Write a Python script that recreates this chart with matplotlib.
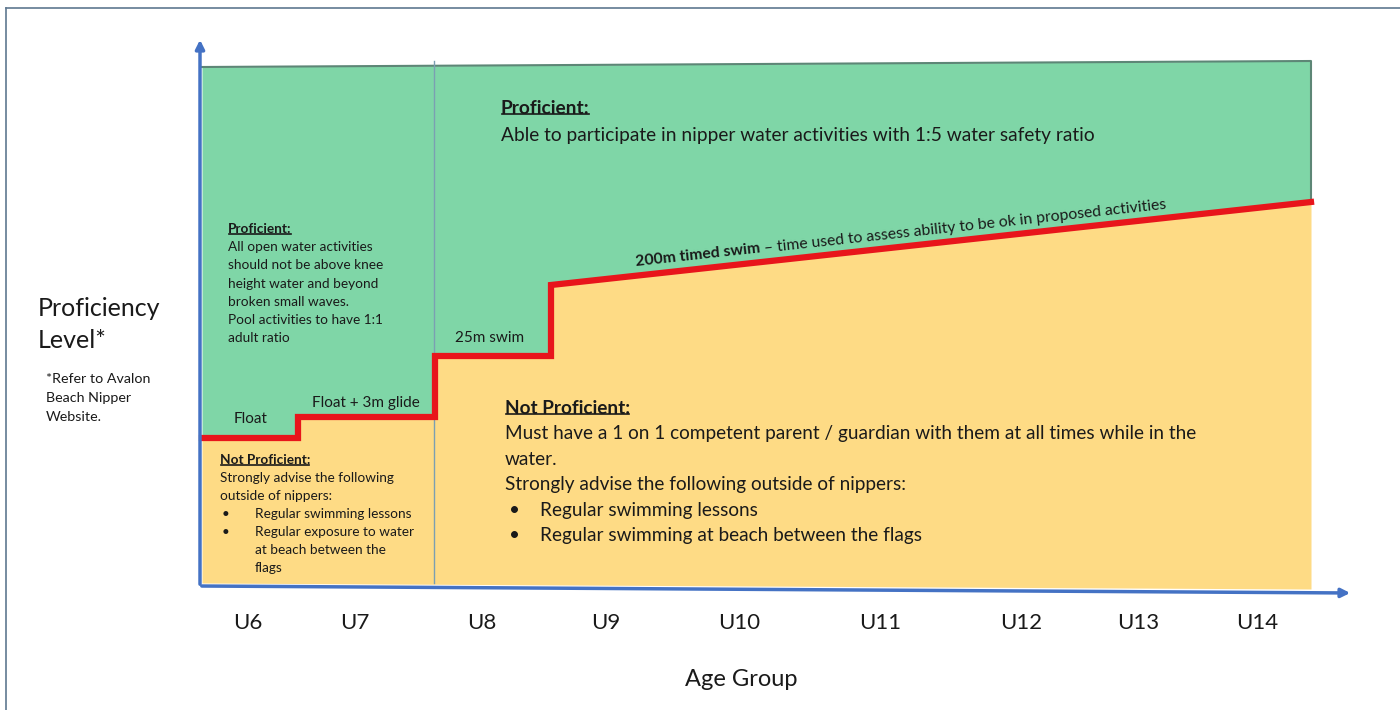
import matplotlib
matplotlib.use('Agg')
import matplotlib.pyplot as plt
import numpy as np
from matplotlib.lines import Line2D

plt.rcParams['font.family'] = ['Lato', 'DejaVu Sans']

# age groups along the bottom and where each label sits on the x scale
age_groups = ['U6', 'U7', 'U8', 'U9', 'U10', 'U11', 'U12', 'U13', 'U14']
age_pos = [0.48, 1.55, 2.82, 4.06, 5.39, 6.80, 8.21, 9.38, 10.57]

# red proficiency boundary (steps for float / glide / 25m, then the 200m slope)
line_x = [0.02, 0.98, 0.98, 2.35, 2.35, 3.51, 3.51, 11.11]
line_y = [1.48, 1.48, 1.69, 1.69, 2.30, 2.30, 3.01, 3.84]

# top and bottom edges of the shaded band
top_x = [0.02, 11.11]
top_y = [5.19, 5.25]
bot_y = [0.03, -0.03]

split_x = 2.34  # U7 / U8 divider

GREEN = '#7fd6a7'
YELLOW = '#fedb85'
RED = '#e8151b'
BLUE = '#4472c4'
TXT = '#1a1a1a'

fig = plt.figure(figsize=(14, 7.1), dpi=100)
ax = fig.add_axes([180 / 1400, 104 / 710, 1180 / 1400, 570 / 710])
ax.set_xlim(-0.2, 11.6)
ax.set_ylim(-0.2, 5.5)
for s in ax.spines.values():
    s.set_visible(False)
ax.set_yticks([])

# shaded areas
lx = np.array(line_x)
ly = np.array(line_y)
ax.fill_between(lx, ly, np.interp(lx, top_x, top_y), color=GREEN, lw=0, zorder=1)
ax.fill_between(lx, np.interp(lx, top_x, bot_y), ly, color=YELLOW, lw=0, zorder=1)
ax.plot([top_x[0], top_x[1], top_x[1]], [top_y[0], top_y[1], line_y[-1]],
        color='#5d8676', lw=1.5, zorder=2)
ax.plot([split_x, split_x], [0.03, top_y[1]], color='#7b9fb2', lw=1, zorder=2)

# red boundary
ax.plot(line_x, line_y, color=RED, lw=4.5, solid_joinstyle='miter', zorder=3)

# axis arrows
arrow = dict(arrowstyle='-|>', color=BLUE, lw=2.5, mutation_scale=13)
ax.annotate('', xy=(0, 5.49), xytext=(0, -0.01), arrowprops=arrow, annotation_clip=False)
ax.annotate('', xy=(11.53, -0.07), xytext=(-0.01, 0), arrowprops=arrow, annotation_clip=False)

ax.set_xticks(age_pos, age_groups)
ax.tick_params(axis='x', length=0, pad=5, labelsize=16, labelcolor=TXT)
ax.set_xlabel('Age Group', fontsize=17, color=TXT, va='center')
ax.xaxis.set_label_coords((741 - 180) / 1180, (606 - 679) / 570)

underline = []


def block(x, y, lines, step, size, head=None, bullet_x=None, text_x=None):
    if head:
        t = ax.text(x, y, head, fontsize=size, fontweight='bold', color=TXT, va='center')
        underline.append(t)
        y -= step
    for ln in lines:
        if ln.startswith('* '):
            ax.text(bullet_x, y, '\u2022', fontsize=size, color=TXT, va='center')
            ax.text(text_x, y, ln[2:], fontsize=size, color=TXT, va='center')
        elif ln.startswith('  '):
            ax.text(text_x, y, ln.strip(), fontsize=size, color=TXT, va='center')
        else:
            ax.text(x, y, ln, fontsize=size, color=TXT, va='center')
        y -= step


block(0.28, 3.57, ['All open water activities', 'should not be above knee',
                   'height water and beyond', 'broken small waves.',
                   'Pool activities to have 1:1', 'adult ratio'],
      0.182, 9.8, head='Proficient:')
block(0.20, 1.26, ['Strongly advise the following', 'outside of nippers:',
                   '* Regular swimming lessons', '* Regular exposure to water',
                   '  at beach between the', '  flags'],
      0.18, 9.8, head='Not Proficient:', bullet_x=0.22, text_x=0.55)

ax.text(0.51, 1.67, 'Float', fontsize=11, color=TXT, ha='center', va='center')
ax.text(1.66, 1.83, 'Float + 3m glide', fontsize=11, color=TXT, ha='center', va='center')
ax.text(2.90, 2.48, '25m swim', fontsize=11, color=TXT, ha='center', va='center')

block(3.01, 4.78, ['Able to participate in nipper water activities with 1:5 water safety ratio'],
      0.27, 13.8, head='Proficient:')
block(3.05, 1.78, ['Must have a 1 on 1 competent parent / guardian with them at all times while in the',
                   'water.', 'Strongly advise the following outside of nippers:',
                   '* Regular swimming lessons', '* Regular swimming at beach between the flags'],
      0.256, 13.7, head='Not Proficient:', bullet_x=3.09, text_x=3.40)

# y-axis title and footnote
ax.text(-1.62, 2.77, 'Proficiency', fontsize=18, color=TXT, va='center')
ax.text(-1.62, 2.45, 'Level*', fontsize=18, color=TXT, va='center')
for i, ln in enumerate(['*Refer to Avalon', 'Beach Nipper', 'Website.']):
    ax.text(-1.54, 2.07 - 0.19 * i, ln, fontsize=10.3, color=TXT, va='center')

# slanted label along the 200m line
fig.canvas.draw()
r = fig.canvas.get_renderer()
p0 = ax.transData.transform((line_x[-2], line_y[-2]))
p1 = ax.transData.transform((line_x[-1], line_y[-1]))
ang = np.degrees(np.arctan2(p1[1] - p0[1], p1[0] - p0[0]))
sx = 4.36
sy = np.interp(sx, line_x[-2:], line_y[-2:]) + 0.095
t1 = ax.text(sx, sy, '200m timed swim', fontsize=11.3, fontweight='bold', color=TXT,
             va='baseline', ha='left')
w = t1.get_window_extent(r).width
t1.set_rotation(ang)
t1.set_rotation_mode('anchor')
ax.annotate(' \u2013 time used to assess ability to be ok in proposed activities',
            xy=(sx, sy), xytext=(w * np.cos(np.radians(ang)), w * np.sin(np.radians(ang))),
            textcoords='offset pixels', fontsize=11.3, color=TXT, rotation=ang,
            rotation_mode='anchor', va='baseline', ha='left')

# underline the headings
fig.canvas.draw()
for t in underline:
    bb = t.get_window_extent(r)
    yy = bb.y0 + 0.12 * bb.height
    fig.add_artist(Line2D([bb.x0 + 1, bb.x1 - 1], [yy, yy], transform=None, color=TXT, lw=1.2))

# picture frame
fig.add_artist(Line2D([6 / 1400, 1], [1 - 8 / 710, 1 - 8 / 710], transform=fig.transFigure,
                      color='#5f7890', lw=1.2))
fig.add_artist(Line2D([6 / 1400, 6 / 1400], [0, 1 - 8 / 710], transform=fig.transFigure,
                      color='#5f7890', lw=1.2))

fig.savefig('out.png', dpi=100)
